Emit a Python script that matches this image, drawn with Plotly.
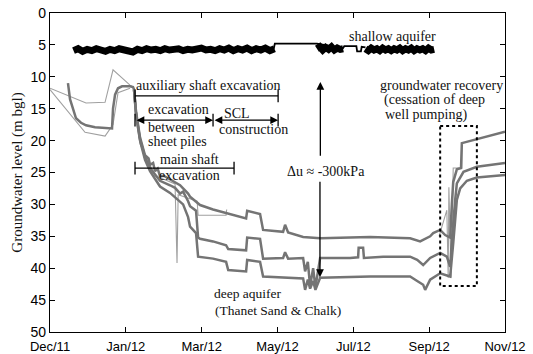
import numpy as np
import plotly.graph_objects as go

# x axis: position in tick intervals (0 = Dec/11 ... 6 = Nov/12)
tick_labels = ["Dec/11", "Jan/12", "Mar/12", "May/12", "Jul/12", "Sep/12", "Nov/12"]
y_ticks = [0, 5, 10, 15, 20, 25, 30, 35, 40, 45, 50]

# ---- shallow aquifer (m bgl) ----
shallow1_vals = [5.9, 5.6, 6.0, 5.7, 5.9, 5.6, 5.8, 6.0, 5.7, 5.9, 5.6, 5.8, 5.9, 6.1, 5.7,
                 5.9, 5.6, 5.8, 5.7, 5.9, 5.6, 5.8, 5.7, 5.6, 5.9, 5.7, 5.8, 5.6, 5.5, 5.8,
                 5.7, 5.9, 5.6, 5.8, 5.5, 5.9, 5.6, 5.8, 5.5, 5.9, 5.6, 5.8, 5.5, 5.9, 5.6]
shallow1_x = np.linspace(0.31, 2.96, len(shallow1_vals))
shallow2_vals = [5.6, 5.3, 5.8, 5.4, 5.7, 5.3, 5.8, 5.5, 5.7, 5.6]
shallow2_x = np.linspace(3.52, 3.865, len(shallow2_vals))
shallow3_vals = [5.6, 5.9, 5.5, 5.8, 5.6, 5.9, 5.5, 5.8, 5.6, 5.9, 5.6, 5.8, 5.5,
                 5.9, 5.6, 5.8, 5.5, 5.9, 5.6, 5.8, 5.6, 5.9, 5.5, 5.8, 5.7]
shallow3_x = np.linspace(4.16, 5.066, len(shallow3_vals))
shallow_thin_x = [2.95, 2.965, 3.52, 3.865, 3.88, 4.04, 4.05, 4.10, 4.11, 4.16]
shallow_thin_y = [5.6, 4.8, 4.8, 5.5, 5.2, 5.2, 6.0, 6.0, 5.3, 5.4]

# ---- deep aquifer piezometers (m bgl) ----
deepA_x = [0.237, 0.25, 0.264, 0.277, 0.343, 0.409, 0.475, 0.594, 0.726, 0.818, 0.831, 0.858,
           0.897, 0.95, 1.055, 1.095, 1.108, 1.121, 1.135, 1.187, 1.253, 1.30, 1.319, 1.36,
           1.385, 1.42, 1.451, 1.50, 1.583, 1.649, 1.715, 1.755, 1.821, 1.847, 1.979, 2.15,
           2.322, 2.586, 2.60, 2.77, 2.81, 3.074, 3.10, 3.14, 3.338, 3.562, 4.222, 4.749,
           4.881, 5.013, 5.053, 5.145, 5.211, 5.277, 5.299, 5.317, 5.365, 5.42, 5.431,
           5.497, 5.541, 5.673, 5.805, 6.0]
deepA_y = [11.0, 12.5, 13.5, 14.0, 16.5, 17.2, 17.6, 17.9, 18.0, 18.1, 15.0, 12.8,
           11.8, 11.5, 11.5, 11.6, 12.0, 13.5, 15.5, 19.5, 22.3, 22.8, 23.8, 23.5,
           24.8, 24.4, 25.6, 25.5, 26.1, 26.5, 27.0, 27.5, 28.3, 28.8, 30.1, 30.8,
           31.4, 32.2, 31.0, 31.5, 34.0, 34.3, 33.2, 34.4, 35.1, 35.3, 35.1, 35.3,
           35.8, 35.0, 34.5, 34.0, 34.8, 35.2, 30.0, 26.5, 24.5, 24.3, 20.4,
           20.2, 20.1, 19.6, 19.2, 18.6]

deepB_x = [1.108, 1.135, 1.187, 1.253, 1.319, 1.385, 1.451, 1.583, 1.649, 1.715, 1.755,
           1.821, 1.847, 1.926, 1.94, 1.953, 1.979, 2.15, 2.322, 2.35, 2.586, 2.60, 2.77,
           2.81, 3.074, 3.10, 3.14, 3.338, 3.364, 3.40, 3.43, 3.47, 3.50, 3.562, 3.958,
           4.063, 4.07, 4.129, 4.14, 4.393, 4.749, 4.842, 4.921, 5.013, 5.145, 5.233,
           5.277, 5.299, 5.343, 5.365, 5.453, 5.629, 6.0]
deepB_y = [12.0, 15.8, 19.8, 22.6, 24.3, 25.3, 26.3, 27.0, 27.4, 28.3, 28.0,
           29.5, 30.3, 31.0, 33.0, 35.2, 35.4, 35.8, 36.4, 37.0, 37.2, 35.2, 35.4,
           38.5, 38.4, 37.5, 38.5, 38.4, 40.5, 39.0, 42.8, 40.0, 43.0, 38.4, 38.4,
           38.3, 36.8, 36.8, 38.4, 38.2, 38.2, 38.7, 39.5, 38.4, 37.6, 38.2,
           39.8, 35.6, 29.3, 26.7, 24.9, 24.1, 23.5]

deepC_x = [1.108, 1.135, 1.187, 1.253, 1.319, 1.385, 1.451, 1.583, 1.715, 1.755, 1.821,
           1.847, 1.926, 1.953, 2.15, 2.322, 2.35, 2.586, 2.60, 2.77, 2.81, 3.338, 3.364,
           3.40, 3.43, 3.47, 3.50, 3.562, 4.222, 4.749, 4.842, 4.921, 4.947, 5.013, 5.145,
           5.277, 5.317, 5.365, 5.409, 5.497, 5.629, 6.0]
deepC_y = [12.0, 16.0, 20.0, 23.0, 24.8, 26.0, 27.2, 28.2, 29.5, 30.0, 32.0,
           33.5, 34.5, 38.2, 38.5, 39.0, 40.3, 40.5, 38.7, 39.0, 41.3, 41.6, 43.4,
           41.8, 43.2, 42.0, 43.4, 41.5, 41.3, 41.3, 42.0, 42.6, 43.4, 41.8, 40.8,
           41.3, 36.1, 29.3, 27.5, 26.3, 25.8, 25.4]

# manual readings (thin lines)
thin1_x = [0.0, 0.475, 0.726, 0.831, 1.055, 1.108]
thin1_y = [11.8, 14.1, 14.0, 8.9, 11.3, 11.7]
thin2_x = [0.0, 0.462, 0.726, 0.831, 0.897, 1.055]
thin2_y = [12.0, 18.7, 19.3, 17.5, 12.5, 11.8]
thin3_x = [1.108, 1.187, 1.385, 1.649, 1.675, 1.69, 1.94, 1.953, 2.322, 2.33]
thin3_y = [11.8, 20.5, 25.5, 26.8, 39.2, 28.5, 29.5, 31.7, 31.7, 30.8]
thin4_x = [5.13, 5.233, 5.251, 5.26, 5.29, 5.317, 5.431, 5.431]
thin4_y = [35.0, 30.9, 41.5, 27.3, 41.5, 24.3, 24.3, 20.4]

SERIF = "Liberation Serif"
SANS = "Liberation Sans"
GREY = "#747474"
THIN = "#a0a0a0"

fig = go.Figure()
for xs, ys in [(thin1_x, thin1_y), (thin2_x, thin2_y), (thin3_x, thin3_y), (thin4_x, thin4_y)]:
    fig.add_trace(go.Scatter(x=xs, y=ys, mode="lines", line=dict(color=THIN, width=1.1),
                             showlegend=False, hoverinfo="skip"))
for xs, ys in [(deepA_x, deepA_y), (deepB_x, deepB_y), (deepC_x, deepC_y)]:
    fig.add_trace(go.Scatter(x=xs, y=ys, mode="lines", line=dict(color=GREY, width=2.5),
                             showlegend=False, hoverinfo="skip"))
fig.add_trace(go.Scatter(x=shallow_thin_x, y=shallow_thin_y, mode="lines",
                         line=dict(color="black", width=1.8), showlegend=False, hoverinfo="skip"))
for xs, ys in [(shallow1_x, shallow1_vals), (shallow2_x, shallow2_vals), (shallow3_x, shallow3_vals)]:
    fig.add_trace(go.Scatter(x=xs, y=ys, mode="lines", line=dict(color="black", width=7),
                             showlegend=False, hoverinfo="skip"))

shapes = []
def seg(x0, y0, x1, y1, w=1.3, dash=None):
    d = dict(type="line", xref="x", yref="y", x0=x0, y0=y0, x1=x1, y1=y1,
             line=dict(color="black", width=w))
    if dash:
        d["line"]["dash"] = dash
    shapes.append(d)

# auxiliary shaft excavation bar
seg(1.121, 13.0, 3.008, 13.0)
seg(1.121, 12.0, 1.121, 14.0)
seg(3.008, 12.0, 3.008, 14.0)
# excavation / SCL bars
seg(1.121, 15.8, 1.121, 17.8)
seg(2.150, 15.8, 2.150, 17.8)
seg(3.008, 15.8, 3.008, 17.8)
# main shaft excavation bar
seg(1.121, 24.3, 2.427, 24.3)
seg(1.121, 23.3, 1.121, 25.3)
seg(2.427, 23.3, 2.427, 25.3)
# recovery box
shapes.append(dict(type="rect", xref="x", yref="y", x0=5.145, x1=5.629, y0=17.7, y1=42.8,
                   line=dict(color="black", width=2, dash="dot")))

ann = []
def arrow(x0, y0, x1, y1, both=False):
    a = dict(x=x1, y=y1, ax=x0, ay=y0, xref="x", yref="y", axref="x", ayref="y",
             text="", showarrow=True, arrowhead=2, arrowsize=1.2, arrowwidth=1.3,
             arrowcolor="black")
    if both:
        a["arrowside"] = "end+start"
        a["startarrowhead"] = 2
        a["startarrowsize"] = 1.2
    ann.append(a)

arrow(1.121, 16.8, 2.150, 16.8, both=True)
arrow(2.150, 16.8, 3.008, 16.8, both=True)
arrow(3.565, 22.6, 3.565, 10.8)
arrow(3.56, 26.2, 3.56, 41.4)

def txt(x, y, s, anchor="left", size=14):
    ann.append(dict(x=x, y=y, xref="x", yref="y", text=s, showarrow=False,
                    xanchor=anchor, yanchor="middle",
                    font=dict(family=SERIF, size=size, color="#111")))

txt(1.108, 11.3, "auxiliary shaft excavation")
txt(1.26, 15.2, "excavation")
txt(1.26, 17.9, "between")
txt(1.26, 20.2, "sheet piles")
txt(2.265, 15.8, "SCL")
txt(2.199, 18.2, "construction")
txt(1.834, 23.0, "main shaft", anchor="center")
txt(1.834, 25.4, "excavation", anchor="center")
txt(3.641, 24.9, "Δu ≈ -300kPa", anchor="center")
txt(4.512, 3.76, "shallow aquifer", anchor="center")
txt(4.323, 11.3, "groundwater recovery")
txt(4.376, 13.6, "(cessation of deep")
txt(4.393, 16.0, "well pumping)")
txt(2.133, 43.9, "deep aquifer", size=13.5)
txt(2.146, 46.6, "(Thanet Sand & Chalk)", size=13.5)

fig.update_layout(
    width=533, height=354,
    margin=dict(l=50, r=28, t=13, b=22, autoexpand=False),
    paper_bgcolor="white", plot_bgcolor="white",
    shapes=shapes, annotations=ann, showlegend=False,
    xaxis=dict(range=[0, 6], tickvals=list(range(7)), ticktext=tick_labels,
               showgrid=False, zeroline=False, showline=True, linecolor="black",
               linewidth=1.2, mirror="ticks", ticks="inside", ticklen=5, tickcolor="black",
               automargin=False, ticklabelstandoff=2,
               tickfont=dict(family=SANS, size=13, color="black")),
    yaxis=dict(range=[50, 0], tickvals=y_ticks, showgrid=False, zeroline=False,
               showline=True, linecolor="black", linewidth=1.2, mirror="ticks",
               ticks="inside", ticklen=5, tickcolor="black", automargin=False,
               tickfont=dict(family=SANS, size=14, color="black"),
               title=dict(text="Groundwater level (m bgl)",
                          font=dict(family=SERIF, size=15, color="#111"), standoff=4)),
)

fig.write_html("out.html")
